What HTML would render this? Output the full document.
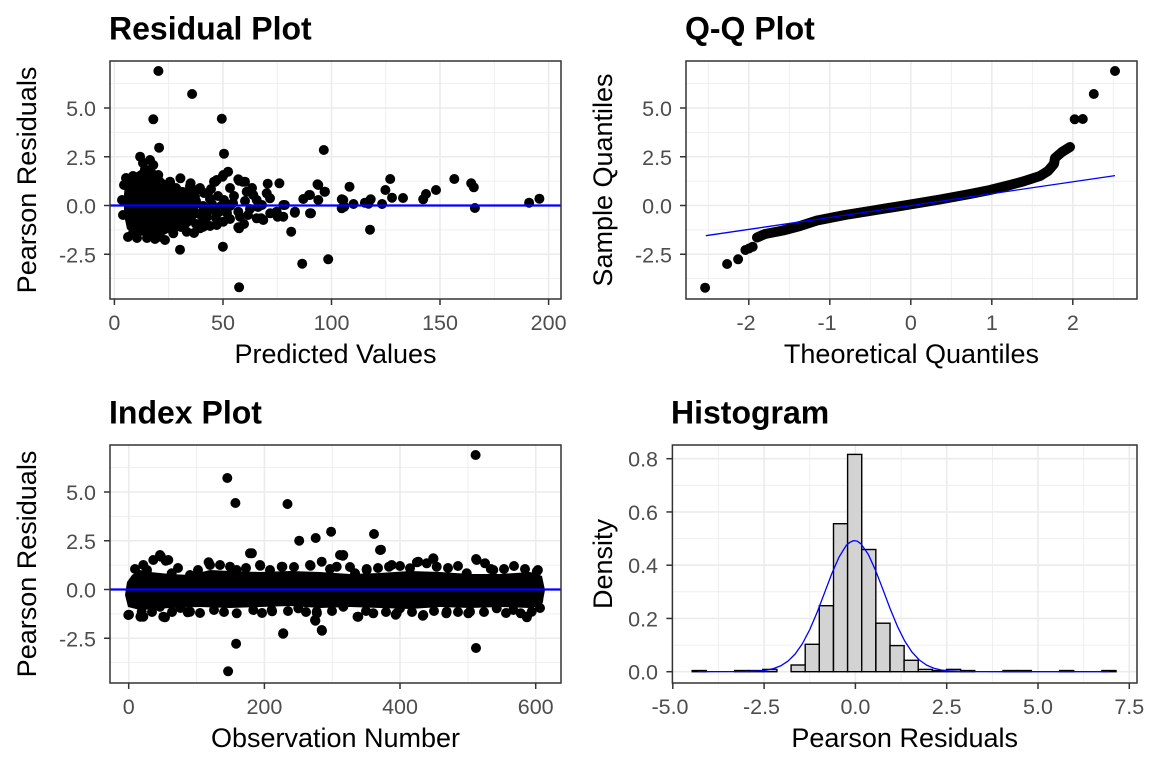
<!DOCTYPE html>
<html><head><meta charset="utf-8">
<style>
html,body{margin:0;padding:0;background:#fff;}
svg{display:block;}
text{font-family:"Liberation Sans",Arial,sans-serif;}
.t{font-size:32px;font-weight:bold;fill:#000;}
.at{font-size:27px;fill:#000;}
.tk{font-size:21.5px;fill:#4D4D4D;}
.gmaj{stroke:#EBEBEB;stroke-width:1.6;}
.gmin{stroke:#EBEBEB;stroke-width:0.8;}
.tick{stroke:#333333;stroke-width:1.5;}
.border{fill:none;stroke:#333333;stroke-width:1.5;}
</style></head>
<body>
<svg width="1152" height="768" viewBox="0 0 1152 768" xmlns="http://www.w3.org/2000/svg">
<rect width="1152" height="768" fill="#fff"/>

<!-- ================= Panel 1: Residual Plot ================= -->
<text class="t" x="109" y="39.5">Residual Plot</text>
<g>
<line class="gmin" x1="110" x2="561" y1="83.6" y2="83.6"/>
<line class="gmin" x1="110" x2="561" y1="132.4" y2="132.4"/>
<line class="gmin" x1="110" x2="561" y1="181.1" y2="181.1"/>
<line class="gmin" x1="110" x2="561" y1="229.9" y2="229.9"/>
<line class="gmin" x1="110" x2="561" y1="278.6" y2="278.6"/>
<line class="gmin" y1="61" y2="299" x1="168.7" x2="168.7"/>
<line class="gmin" y1="61" y2="299" x1="277.2" x2="277.2"/>
<line class="gmin" y1="61" y2="299" x1="385.8" x2="385.8"/>
<line class="gmin" y1="61" y2="299" x1="494.3" x2="494.3"/>
<line class="gmaj" x1="110" x2="561" y1="108" y2="108"/>
<line class="gmaj" x1="110" x2="561" y1="156.75" y2="156.75"/>
<line class="gmaj" x1="110" x2="561" y1="205.5" y2="205.5"/>
<line class="gmaj" x1="110" x2="561" y1="254.25" y2="254.25"/>
<line class="gmaj" y1="61" y2="299" x1="114.4" x2="114.4"/>
<line class="gmaj" y1="61" y2="299" x1="223" x2="223"/>
<line class="gmaj" y1="61" y2="299" x1="331.5" x2="331.5"/>
<line class="gmaj" y1="61" y2="299" x1="440" x2="440"/>
<line class="gmaj" y1="61" y2="299" x1="548.6" x2="548.6"/>
</g>
<g fill="#000">
<path d="M125,182 L130,176 L137,172 L143,168 L152,166 L158,173 L165,180 L175,185 L185,188 L195,190 L200,196 L198,210 L195,222 L185,230 L170,232 L160,237 L147,236 L135,235 L127,229 L124,215 L124,195 Z"/>
<circle r="5" cx="158.4" cy="71"/><circle r="5" cx="192.1" cy="94"/><circle r="5" cx="153.3" cy="119.3"/><circle r="5" cx="221.8" cy="118.7"/>
<circle r="5" cx="159.1" cy="147.7"/><circle r="5" cx="140.1" cy="156.7"/><circle r="5" cx="224" cy="153.7"/><circle r="5" cx="323.8" cy="150"/>
<circle r="5" cx="390.2" cy="179"/><circle r="5" cx="454.3" cy="179"/><circle r="5" cx="471.2" cy="183.3"/><circle r="5" cx="473.8" cy="187.3"/>
<circle r="5" cx="436" cy="190"/><circle r="5" cx="426" cy="194"/><circle r="5" cx="423.2" cy="199.3"/><circle r="5" cx="403" cy="198"/>
<circle r="5" cx="392" cy="197.7"/><circle r="5" cx="385.4" cy="190"/><circle r="5" cx="382.1" cy="204"/><circle r="5" cx="370.7" cy="199.3"/>
<circle r="5" cx="368.5" cy="203.7"/><circle r="5" cx="364.9" cy="202.7"/><circle r="5" cx="370" cy="229.7"/><circle r="5" cx="353.5" cy="204"/>
<circle r="5" cx="349.5" cy="186.7"/><circle r="5" cx="341.8" cy="199.3"/><circle r="5" cx="344.3" cy="206.7"/><circle r="5" cx="474.9" cy="208"/>
<circle r="5" cx="529.1" cy="202.7"/><circle r="5" cx="539.4" cy="198.7"/><circle r="5" cx="328.2" cy="259.3"/><circle r="5" cx="302.2" cy="263.7"/>
<circle r="5" cx="239.1" cy="287.3"/><circle r="5" cx="180" cy="249.7"/><circle r="5" cx="222.9" cy="246.7"/><circle r="5" cx="291.2" cy="231.7"/>
<circle r="5" cx="311" cy="213.3"/><circle r="5" cx="294.8" cy="212.7"/><circle r="5" cx="317.5" cy="184.3"/><circle r="5" cx="324.5" cy="191.7"/>
<circle r="5" cx="318.3" cy="200"/><circle r="5" cx="309.1" cy="195"/><circle r="5" cx="303.3" cy="199"/><circle r="5" cx="279.4" cy="183.3"/>
<circle r="5" cx="267.7" cy="183.7"/><circle r="5" cx="284.9" cy="205"/><circle r="5" cx="277.6" cy="216.7"/><circle r="5" cx="270.2" cy="213.3"/>
<circle r="5" cx="261.1" cy="218.3"/><circle r="5" cx="239.1" cy="180.7"/><circle r="5" cx="242.7" cy="181.7"/><circle r="5" cx="228.1" cy="171.7"/>
<circle r="5" cx="222.6" cy="176.7"/><circle r="5" cx="215.2" cy="181.7"/><circle r="5" cx="239.1" cy="228.3"/><circle r="5" cx="180.4" cy="178.3"/>
<circle r="5" cx="190.6" cy="183.3"/><circle r="5" cx="170.1" cy="182.7"/>
<circle r="5" cx="145" cy="169.3"/><circle r="5" cx="153.3" cy="165"/><circle r="5" cx="214" cy="181.7"/><circle r="5" cx="216.7" cy="180"/>
<circle r="5" cx="223.3" cy="175"/><circle r="5" cx="246.7" cy="191.7"/><circle r="5" cx="253.3" cy="195"/><circle r="5" cx="256.7" cy="200"/>
<circle r="5" cx="266.7" cy="193.3"/><circle r="5" cx="270" cy="198.3"/><circle r="5" cx="283.3" cy="205"/><circle r="5" cx="276.7" cy="211.7"/>
<circle r="5" cx="283.3" cy="216.7"/><circle r="5" cx="295" cy="211.7"/><circle r="5" cx="310" cy="213.3"/><circle r="5" cx="343.3" cy="200"/>
<circle r="5" cx="341.7" cy="208.3"/><circle r="5" cx="238.3" cy="211.7"/><circle r="5" cx="240" cy="216.7"/><circle r="5" cx="256.7" cy="218.3"/>
<circle r="5" cx="263.3" cy="220"/><circle r="5" cx="238.3" cy="227.3"/><circle r="5" cx="223.3" cy="221.7"/><circle r="5" cx="216.7" cy="225"/>
<circle r="5" cx="203.3" cy="226.7"/><circle r="5" cx="200" cy="228.3"/><circle r="5" cx="186.7" cy="221.7"/><circle r="5" cx="186.7" cy="231.7"/>
<circle r="5" cx="173.3" cy="233.3"/><circle r="5" cx="160" cy="236.7"/><circle r="5" cx="133.3" cy="231.7"/><circle r="5" cx="238.3" cy="179.3"/>
<circle r="5" cx="245" cy="181.7"/><circle r="5" cx="318.3" cy="185"/><circle r="5" cx="325" cy="191.7"/><circle r="5" cx="310" cy="195"/>
<circle r="5" cx="128" cy="237"/><circle r="5" cx="137" cy="238"/><circle r="5" cx="147" cy="238"/><circle r="5" cx="124" cy="185"/>
<circle r="5" cx="122" cy="200"/><circle r="5" cx="123" cy="215"/><circle r="5" cx="126" cy="178"/><circle r="5" cx="133" cy="176"/>
<circle r="5" cx="143" cy="163"/><circle r="5" cx="150" cy="160"/><circle r="5" cx="158.3" cy="175"/><circle r="5" cx="170" cy="181.7"/>
<circle r="5" cx="146.7" cy="233.3"/>
<circle r="5" cx="176" cy="188"/><circle r="5" cx="183" cy="192"/><circle r="5" cx="190" cy="186"/><circle r="5" cx="197" cy="190"/><circle r="5" cx="204" cy="193"/><circle r="5" cx="211" cy="189"/>
<circle r="5" cx="177" cy="198"/><circle r="5" cx="182" cy="204"/><circle r="5" cx="189" cy="197"/><circle r="5" cx="196" cy="201"/><circle r="5" cx="203" cy="206"/><circle r="5" cx="210" cy="199"/><circle r="5" cx="218" cy="196"/>
<circle r="5" cx="178" cy="211"/><circle r="5" cx="185" cy="215"/><circle r="5" cx="192" cy="208"/><circle r="5" cx="199" cy="214"/><circle r="5" cx="207" cy="217"/><circle r="5" cx="213" cy="210"/><circle r="5" cx="221" cy="206"/>
<circle r="5" cx="175" cy="222"/><circle r="5" cx="181" cy="227"/><circle r="5" cx="188" cy="219"/><circle r="5" cx="196" cy="224"/><circle r="5" cx="203" cy="220"/><circle r="5" cx="210" cy="226"/><circle r="5" cx="216" cy="218"/>
<circle r="5" cx="224" cy="200"/><circle r="5" cx="230" cy="206"/><circle r="5" cx="227" cy="213"/><circle r="5" cx="234" cy="196"/><circle r="5" cx="245" cy="201"/><circle r="5" cx="250" cy="209"/>
<circle r="5" cx="258" cy="207"/><circle r="5" cx="248" cy="215"/><circle r="5" cx="230" cy="188"/><circle r="5" cx="252" cy="188"/><circle r="5" cx="262" cy="205"/><circle r="5" cx="244" cy="224"/>
<circle r="5" cx="165" cy="240"/><circle r="5" cx="155" cy="239"/>
<circle r="5" cx="206" cy="211"/><circle r="5" cx="212" cy="204"/><circle r="5" cx="219" cy="212"/><circle r="5" cx="226" cy="206"/><circle r="5" cx="208" cy="193"/>
<circle r="5" cx="230" cy="219"/><circle r="5" cx="233" cy="203"/><circle r="5" cx="200" cy="188"/><circle r="5" cx="194" cy="233"/>
</g>
<line x1="110" x2="561" y1="205.5" y2="205.5" stroke="#0000FF" stroke-width="2.2"/>
<rect class="border" x="110" y="61" width="451" height="238"/>
<g class="tick">
<line x1="104" x2="110" y1="108" y2="108"/><line x1="104" x2="110" y1="156.75" y2="156.75"/><line x1="104" x2="110" y1="205.5" y2="205.5"/><line x1="104" x2="110" y1="254.25" y2="254.25"/>
<line y1="299" y2="305" x1="114.4" x2="114.4"/><line y1="299" y2="305" x1="223" x2="223"/><line y1="299" y2="305" x1="331.5" x2="331.5"/><line y1="299" y2="305" x1="440" x2="440"/><line y1="299" y2="305" x1="548.6" x2="548.6"/>
</g>
<g class="tk" text-anchor="end">
<text x="96" y="116">5.0</text><text x="96" y="164.75">2.5</text><text x="96" y="213.5">0.0</text><text x="96" y="262.25">-2.5</text>
</g>
<g class="tk" text-anchor="middle">
<text x="114.4" y="330">0</text><text x="223" y="330">50</text><text x="331.5" y="330">100</text><text x="440" y="330">150</text><text x="548.6" y="330">200</text>
</g>
<text class="at" text-anchor="middle" x="335.5" y="363">Predicted Values</text>
<text class="at" text-anchor="middle" transform="translate(36,180) rotate(-90)">Pearson Residuals</text>

<!-- ================= Panel 2: Q-Q Plot ================= -->
<text class="t" x="685" y="39.5">Q-Q Plot</text>
<g>
<line class="gmin" x1="686" x2="1137" y1="83.6" y2="83.6"/>
<line class="gmin" x1="686" x2="1137" y1="132.4" y2="132.4"/>
<line class="gmin" x1="686" x2="1137" y1="181.1" y2="181.1"/>
<line class="gmin" x1="686" x2="1137" y1="229.9" y2="229.9"/>
<line class="gmin" x1="686" x2="1137" y1="278.6" y2="278.6"/>
<line class="gmin" y1="61" y2="299" x1="708.3" x2="708.3"/>
<line class="gmin" y1="61" y2="299" x1="789.3" x2="789.3"/>
<line class="gmin" y1="61" y2="299" x1="870.3" x2="870.3"/>
<line class="gmin" y1="61" y2="299" x1="951.3" x2="951.3"/>
<line class="gmin" y1="61" y2="299" x1="1032.3" x2="1032.3"/>
<line class="gmin" y1="61" y2="299" x1="1113.3" x2="1113.3"/>
<line class="gmaj" x1="686" x2="1137" y1="108" y2="108"/>
<line class="gmaj" x1="686" x2="1137" y1="156.75" y2="156.75"/>
<line class="gmaj" x1="686" x2="1137" y1="205.5" y2="205.5"/>
<line class="gmaj" x1="686" x2="1137" y1="254.25" y2="254.25"/>
<line class="gmaj" y1="61" y2="299" x1="748.8" x2="748.8"/>
<line class="gmaj" y1="61" y2="299" x1="829.8" x2="829.8"/>
<line class="gmaj" y1="61" y2="299" x1="910.8" x2="910.8"/>
<line class="gmaj" y1="61" y2="299" x1="991.8" x2="991.8"/>
<line class="gmaj" y1="61" y2="299" x1="1072.8" x2="1072.8"/>
</g>
<polyline fill="none" stroke="#000" stroke-width="10" stroke-linecap="round" stroke-linejoin="round"
 points="757,237.5 765,234 783,230.5 800,226 817,220.5 845,215 873,210.5 910,204.5 940,199.5 970,194 990,190 1010,185 1023,181.5 1040,176 1048,171 1054,164 1055,158 1062,152 1070,147"/>
<g fill="#000">
<circle r="5" cx="705.1" cy="287.7"/><circle r="5" cx="727.1" cy="264"/><circle r="5" cx="738.1" cy="259.3"/>
<circle r="5" cx="745.4" cy="250"/><circle r="5" cx="749" cy="248.5"/><circle r="5" cx="752.7" cy="246.7"/>
<circle r="5" cx="1074.7" cy="119.3"/><circle r="5" cx="1082.8" cy="119"/><circle r="5" cx="1093.8" cy="94"/><circle r="5" cx="1115" cy="71"/>
</g>
<line x1="705.8" y1="235.7" x2="1115" y2="175.6" stroke="#0000FF" stroke-width="1.3"/>
<rect class="border" x="686" y="61" width="451" height="238"/>
<g class="tick">
<line x1="680" x2="686" y1="108" y2="108"/><line x1="680" x2="686" y1="156.75" y2="156.75"/><line x1="680" x2="686" y1="205.5" y2="205.5"/><line x1="680" x2="686" y1="254.25" y2="254.25"/>
<line y1="299" y2="305" x1="748.8" x2="748.8"/><line y1="299" y2="305" x1="829.8" x2="829.8"/><line y1="299" y2="305" x1="910.8" x2="910.8"/><line y1="299" y2="305" x1="991.8" x2="991.8"/><line y1="299" y2="305" x1="1072.8" x2="1072.8"/>
</g>
<g class="tk" text-anchor="end">
<text x="672" y="116">5.0</text><text x="672" y="164.75">2.5</text><text x="672" y="213.5">0.0</text><text x="672" y="262.25">-2.5</text>
</g>
<g class="tk" text-anchor="middle">
<text x="746" y="330">-2</text><text x="827" y="330">-1</text><text x="910.8" y="330">0</text><text x="991.8" y="330">1</text><text x="1072.8" y="330">2</text>
</g>
<text class="at" text-anchor="middle" x="911.5" y="363">Theoretical Quantiles</text>
<text class="at" text-anchor="middle" transform="translate(612,180) rotate(-90)">Sample Quantiles</text>

<!-- ================= Panel 3: Index Plot ================= -->
<text class="t" x="109" y="423.5">Index Plot</text>
<g>
<line class="gmin" x1="110" x2="561" y1="467.6" y2="467.6"/>
<line class="gmin" x1="110" x2="561" y1="516.4" y2="516.4"/>
<line class="gmin" x1="110" x2="561" y1="565.1" y2="565.1"/>
<line class="gmin" x1="110" x2="561" y1="613.9" y2="613.9"/>
<line class="gmin" x1="110" x2="561" y1="662.6" y2="662.6"/>
<line class="gmin" y1="445" y2="683" x1="196.5" x2="196.5"/>
<line class="gmin" y1="445" y2="683" x1="332.2" x2="332.2"/>
<line class="gmin" y1="445" y2="683" x1="467.9" x2="467.9"/>
<line class="gmaj" x1="110" x2="561" y1="492" y2="492"/>
<line class="gmaj" x1="110" x2="561" y1="540.75" y2="540.75"/>
<line class="gmaj" x1="110" x2="561" y1="589.5" y2="589.5"/>
<line class="gmaj" x1="110" x2="561" y1="638.25" y2="638.25"/>
<line class="gmaj" y1="445" y2="683" x1="128.7" x2="128.7"/>
<line class="gmaj" y1="445" y2="683" x1="264.4" x2="264.4"/>
<line class="gmaj" y1="445" y2="683" x1="400" x2="400"/>
<line class="gmaj" y1="445" y2="683" x1="535.7" x2="535.7"/>
</g>
<g fill="#000">
<path d="M127,582 L132,575 L140,570 L150,572 L170,574 L190,575 L210,570 L230,571 L260,572 L290,571 L320,572 L350,574 L380,573 L410,571 L440,572 L470,574 L500,574 L530,572 L542,576 L545,590 L542,606 L530,608 L500,607 L470,608 L440,607 L410,609 L380,608 L350,607 L320,608 L290,606 L260,607 L230,608 L200,607 L170,608 L140,610 L128,607 L125,595 Z"/>
<circle r="5" cx="475.6" cy="455"/><circle r="5" cx="227.3" cy="478"/><circle r="5" cx="235.4" cy="503"/><circle r="5" cx="287.5" cy="504"/>
<circle r="5" cx="331.1" cy="531.7"/><circle r="5" cx="374" cy="534"/><circle r="5" cx="315.7" cy="538"/><circle r="5" cx="299.2" cy="540.7"/>
<circle r="5" cx="381" cy="549.7"/><circle r="5" cx="251.9" cy="553.3"/><circle r="5" cx="342.9" cy="555.7"/><circle r="5" cx="260.3" cy="565.7"/>
<circle r="5" cx="476" cy="648"/><circle r="5" cx="283.1" cy="633.7"/><circle r="5" cx="322" cy="630.7"/><circle r="5" cx="236.1" cy="643.7"/>
<circle r="5" cx="228.1" cy="671.3"/><circle r="5" cx="315.4" cy="620.7"/><circle r="5" cx="316.9" cy="613.3"/><circle r="5" cx="446.3" cy="613.3"/>
<circle r="5" cx="422.8" cy="615.7"/><circle r="5" cx="357.5" cy="616.7"/><circle r="5" cx="395.7" cy="614.7"/><circle r="5" cx="187.7" cy="612.3"/>
<circle r="5" cx="180.4" cy="608"/><circle r="5" cx="165" cy="617.3"/><circle r="5" cx="129" cy="614.7"/><circle r="5" cx="140.4" cy="616.7"/>
<circle r="5" cx="526.9" cy="617.3"/><circle r="5" cx="520.7" cy="613.3"/><circle r="5" cx="272.1" cy="611.3"/><circle r="5" cx="468.3" cy="613.3"/>
<circle r="5" cx="161" cy="556.7"/><circle r="5" cx="165.7" cy="560.7"/><circle r="5" cx="208.6" cy="562.3"/><circle r="5" cx="476.1" cy="559"/>
<circle r="5" cx="490.8" cy="569"/><circle r="5" cx="433.4" cy="559"/><circle r="5" cx="416.9" cy="562.3"/><circle r="5" cx="389" cy="566.7"/>
<circle r="5" cx="366.7" cy="569"/><circle r="5" cx="537.9" cy="570"/><circle r="5" cx="525" cy="569"/><circle r="5" cx="282.4" cy="566.7"/>
<circle r="5" cx="310.6" cy="565.7"/><circle r="5" cx="143.3" cy="565"/><circle r="5" cx="153.3" cy="560"/><circle r="5" cx="160" cy="555"/>
<circle r="5" cx="168.3" cy="560"/><circle r="5" cx="171.7" cy="573.3"/><circle r="5" cx="190" cy="575"/><circle r="5" cx="210" cy="565"/>
<circle r="5" cx="220" cy="565"/><circle r="5" cx="230" cy="566.7"/><circle r="5" cx="236.7" cy="570"/><circle r="5" cx="250" cy="553.3"/>
<circle r="5" cx="260" cy="565"/><circle r="5" cx="281.7" cy="566.7"/><circle r="5" cx="310" cy="565"/><circle r="5" cx="321.7" cy="561.7"/>
<circle r="5" cx="340" cy="555"/><circle r="5" cx="128.3" cy="615"/><circle r="5" cx="141.7" cy="611.7"/><circle r="5" cx="143.3" cy="616.7"/>
<circle r="5" cx="160" cy="606.7"/><circle r="5" cx="163.3" cy="616.7"/><circle r="5" cx="180" cy="606.7"/><circle r="5" cx="190" cy="611.7"/>
<circle r="5" cx="236.7" cy="613.3"/><circle r="5" cx="253.3" cy="610"/><circle r="5" cx="271.7" cy="610"/><circle r="5" cx="283.3" cy="633.3"/>
<circle r="5" cx="298.3" cy="608.3"/><circle r="5" cx="316.7" cy="611.7"/><circle r="5" cx="315" cy="620"/><circle r="5" cx="321.7" cy="630"/>
<circle r="5" cx="343.3" cy="555"/><circle r="5" cx="380" cy="550"/><circle r="5" cx="336.7" cy="566.7"/><circle r="5" cx="355" cy="573.3"/>
<circle r="5" cx="366.7" cy="570"/><circle r="5" cx="391.7" cy="565"/><circle r="5" cx="410" cy="568.3"/><circle r="5" cx="418.3" cy="561.7"/>
<circle r="5" cx="426.7" cy="563.3"/><circle r="5" cx="433.3" cy="558.3"/><circle r="5" cx="436.7" cy="566.7"/><circle r="5" cx="466.7" cy="573.3"/>
<circle r="5" cx="476.7" cy="560"/><circle r="5" cx="485" cy="563.3"/><circle r="5" cx="493.3" cy="570"/><circle r="5" cx="536.7" cy="571.7"/>
<circle r="5" cx="343.3" cy="606.7"/><circle r="5" cx="358.3" cy="616.7"/><circle r="5" cx="373.3" cy="613.3"/><circle r="5" cx="396.7" cy="613.3"/>
<circle r="5" cx="400" cy="608.3"/><circle r="5" cx="423.3" cy="615"/><circle r="5" cx="446.7" cy="611.7"/><circle r="5" cx="470" cy="611.7"/>
<circle r="5" cx="496.7" cy="608.3"/><circle r="5" cx="513.3" cy="610"/><circle r="5" cx="526.7" cy="616.7"/><circle r="5" cx="531.7" cy="611.7"/>
<circle r="5" cx="538.3" cy="600"/>
<circle r="5" cx="135" cy="569"/><circle r="5" cx="147" cy="570"/><circle r="5" cx="178" cy="568"/><circle r="5" cx="198" cy="570"/>
<circle r="5" cx="246" cy="568"/><circle r="5" cx="270" cy="570"/><circle r="5" cx="294" cy="567"/><circle r="5" cx="330" cy="569"/>
<circle r="5" cx="350" cy="567"/><circle r="5" cx="378" cy="568"/><circle r="5" cx="400" cy="566"/><circle r="5" cx="448" cy="568"/>
<circle r="5" cx="458" cy="566"/><circle r="5" cx="504" cy="569"/><circle r="5" cx="514" cy="566"/>
<circle r="5" cx="152" cy="612"/><circle r="5" cx="172" cy="612"/><circle r="5" cx="200" cy="613"/><circle r="5" cx="214" cy="610"/>
<circle r="5" cx="224" cy="612"/><circle r="5" cx="262" cy="613"/><circle r="5" cx="288" cy="611"/><circle r="5" cx="306" cy="612"/>
<circle r="5" cx="332" cy="611"/><circle r="5" cx="366" cy="611"/><circle r="5" cx="386" cy="612"/><circle r="5" cx="412" cy="612"/>
<circle r="5" cx="434" cy="611"/><circle r="5" cx="458" cy="612"/><circle r="5" cx="484" cy="612"/><circle r="5" cx="506" cy="613"/><circle r="5" cx="540" cy="608"/>
</g>
<line x1="110" x2="561" y1="589.5" y2="589.5" stroke="#0000FF" stroke-width="2.2"/>
<rect class="border" x="110" y="445" width="451" height="238"/>
<g class="tick">
<line x1="104" x2="110" y1="492" y2="492"/><line x1="104" x2="110" y1="540.75" y2="540.75"/><line x1="104" x2="110" y1="589.5" y2="589.5"/><line x1="104" x2="110" y1="638.25" y2="638.25"/>
<line y1="683" y2="689" x1="128.7" x2="128.7"/><line y1="683" y2="689" x1="264.4" x2="264.4"/><line y1="683" y2="689" x1="400" x2="400"/><line y1="683" y2="689" x1="535.7" x2="535.7"/>
</g>
<g class="tk" text-anchor="end">
<text x="96" y="500">5.0</text><text x="96" y="548.75">2.5</text><text x="96" y="597.5">0.0</text><text x="96" y="646.25">-2.5</text>
</g>
<g class="tk" text-anchor="middle">
<text x="128.7" y="714">0</text><text x="264.4" y="714">200</text><text x="400" y="714">400</text><text x="535.7" y="714">600</text>
</g>
<text class="at" text-anchor="middle" x="335.5" y="747">Observation Number</text>
<text class="at" text-anchor="middle" transform="translate(36,564) rotate(-90)">Pearson Residuals</text>

<!-- ================= Panel 4: Histogram ================= -->
<text class="t" x="671" y="423.5">Histogram</text>
<g>
<line class="gmin" x1="672.4" x2="1137" y1="645.1" y2="645.1"/>
<line class="gmin" x1="672.4" x2="1137" y1="591.8" y2="591.8"/>
<line class="gmin" x1="672.4" x2="1137" y1="538.6" y2="538.6"/>
<line class="gmin" x1="672.4" x2="1137" y1="485.3" y2="485.3"/>
<line class="gmin" y1="445" y2="683" x1="718.4" x2="718.4"/>
<line class="gmin" y1="445" y2="683" x1="809.8" x2="809.8"/>
<line class="gmin" y1="445" y2="683" x1="901.1" x2="901.1"/>
<line class="gmin" y1="445" y2="683" x1="992.4" x2="992.4"/>
<line class="gmin" y1="445" y2="683" x1="1083.7" x2="1083.7"/>
<line class="gmaj" x1="672.4" x2="1137" y1="671.7" y2="671.7"/>
<line class="gmaj" x1="672.4" x2="1137" y1="618.45" y2="618.45"/>
<line class="gmaj" x1="672.4" x2="1137" y1="565.2" y2="565.2"/>
<line class="gmaj" x1="672.4" x2="1137" y1="511.95" y2="511.95"/>
<line class="gmaj" x1="672.4" x2="1137" y1="458.7" y2="458.7"/>
<line class="gmaj" y1="445" y2="683" x1="764.1" x2="764.1"/>
<line class="gmaj" y1="445" y2="683" x1="855.4" x2="855.4"/>
<line class="gmaj" y1="445" y2="683" x1="946.7" x2="946.7"/>
<line class="gmaj" y1="445" y2="683" x1="1038" x2="1038"/>
<line class="gmaj" y1="445" y2="683" x1="1129.3" x2="1129.3"/>
</g>
<g fill="#D3D3D3" stroke="#000" stroke-width="1.4">
<rect x="692.2" y="670.55" width="14.13" height="1.15"/>
<rect x="734.6" y="670.55" width="14.13" height="1.15"/>
<rect x="748.7" y="670.55" width="14.13" height="1.15"/>
<rect x="762.8" y="669.4" width="14.13" height="2.3"/>
<rect x="791.1" y="665.0" width="14.13" height="6.7"/>
<rect x="805.2" y="644.3" width="14.13" height="27.4"/>
<rect x="819.3" y="605.7" width="14.13" height="66"/>
<rect x="833.5" y="523.7" width="14.13" height="148"/>
<rect x="847.6" y="454.4" width="14.13" height="217.3"/>
<rect x="861.7" y="549.5" width="14.13" height="122.2"/>
<rect x="875.9" y="623.2" width="14.13" height="48.5"/>
<rect x="890.0" y="645.6" width="14.13" height="26.1"/>
<rect x="904.1" y="660.3" width="14.13" height="11.4"/>
<rect x="918.3" y="669.4" width="14.13" height="2.3"/>
<rect x="932.4" y="670.55" width="14.13" height="1.15"/>
<rect x="946.5" y="669.4" width="14.13" height="2.3"/>
<rect x="960.6" y="670.55" width="14.13" height="1.15"/>
<rect x="1003.0" y="670.55" width="14.13" height="1.15"/>
<rect x="1017.2" y="670.55" width="14.13" height="1.15"/>
<rect x="1059.6" y="670.55" width="14.13" height="1.15"/>
<rect x="1101.9" y="670.55" width="14.13" height="1.15"/>
</g>
<polyline fill="none" stroke="#0000FF" stroke-width="1.3" stroke-linejoin="round"
 points="698,671.7 744,671.55 758.6,671.0 766,670.2 773.3,668.6 780.6,665.9 787.9,661.2 795.2,654.0 802.5,643.5 809.8,629.5 817.1,612.4 824.4,593.2 831.7,573.9 839,557.1 846.3,545.3 850,542.3 853.6,540.6 857.2,541.1 860.9,543.8 868.2,554.2 875.5,570.2 882.8,589.2 890.1,608.6 897.4,626.3 904.7,641.0 912,652.1 919.3,660.0 926.6,665.1 933.9,668.2 941.2,670.0 948.6,670.9 963.2,671.55 1000,671.7 1109.2,671.7"/>
<rect class="border" x="672.4" y="445" width="464.6" height="238"/>
<g class="tick">
<line x1="666.4" x2="672.4" y1="671.7" y2="671.7"/><line x1="666.4" x2="672.4" y1="618.45" y2="618.45"/><line x1="666.4" x2="672.4" y1="565.2" y2="565.2"/><line x1="666.4" x2="672.4" y1="511.95" y2="511.95"/><line x1="666.4" x2="672.4" y1="458.7" y2="458.7"/>
<line y1="683" y2="689" x1="672.8" x2="672.8"/><line y1="683" y2="689" x1="764.1" x2="764.1"/><line y1="683" y2="689" x1="855.4" x2="855.4"/><line y1="683" y2="689" x1="946.7" x2="946.7"/><line y1="683" y2="689" x1="1038" x2="1038"/><line y1="683" y2="689" x1="1129.3" x2="1129.3"/>
</g>
<g class="tk" text-anchor="end">
<text x="658" y="679.7">0.0</text><text x="658" y="626.45">0.2</text><text x="658" y="573.2">0.4</text><text x="658" y="519.95">0.6</text><text x="658" y="466.7">0.8</text>
</g>
<g class="tk" text-anchor="middle">
<text x="670" y="714">-5.0</text><text x="761.5" y="714">-2.5</text><text x="855.4" y="714">0.0</text><text x="946.7" y="714">2.5</text><text x="1038" y="714">5.0</text><text x="1129.3" y="714">7.5</text>
</g>
<text class="at" text-anchor="middle" x="904.7" y="747">Pearson Residuals</text>
<text class="at" text-anchor="middle" transform="translate(612,564) rotate(-90)">Density</text>
</svg>
</body></html>
